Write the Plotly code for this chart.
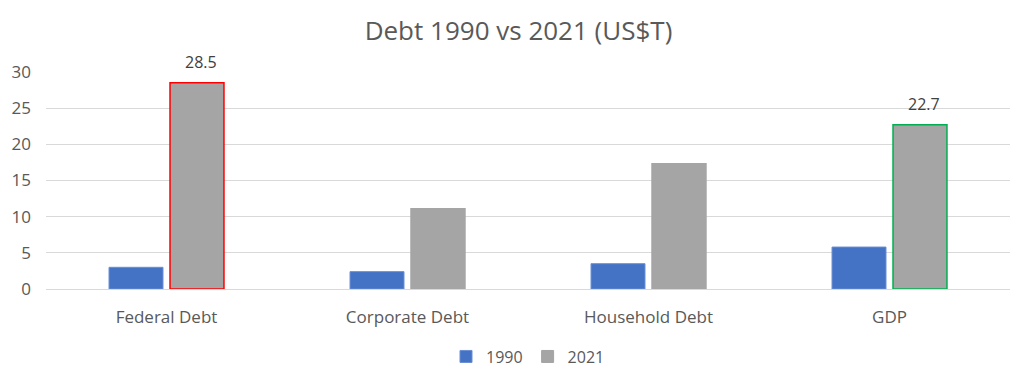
import plotly.graph_objects as go

categories = ["Federal Debt", "Corporate Debt", "Household Debt", "GDP"]
values_1990 = [3.0, 2.4, 3.5, 5.8]
values_2021 = [28.5, 11.1, 17.3, 22.7]
label_2021 = [True, False, False, True]
outline_2021 = ["#ff0000", "#a5a5a5", "#a5a5a5", "#00b050"]
y_ticks = [0, 5, 10, 15, 20, 25, 30]

font_family = "Open Sans, Liberation Sans, sans-serif"

fig = go.Figure()
fig.add_trace(go.Bar(
    x=categories, y=values_1990, name="1990", offsetgroup="a",
    marker=dict(color="#4472c4", line=dict(color="#6a8fd3", width=1)),
))
fig.add_trace(go.Bar(
    x=categories, y=values_2021, name="2021", offsetgroup="b", showlegend=False,
    marker=dict(color="#a5a5a5", line=dict(color=outline_2021, width=1.5)),
))
# legend entry for 2021 (plain grey swatch)
fig.add_trace(go.Bar(
    x=[None], y=[None], name="2021", offsetgroup="b", showlegend=True,
    marker=dict(color="#a5a5a5", line=dict(color="#a5a5a5", width=1)),
))

for cat, v, s in zip(categories, values_2021, label_2021):
    if s:
        fig.add_annotation(x=cat, y=v, text=f"{v}", showarrow=False,
                           xshift=34, yshift=8, yanchor="bottom",
                           font=dict(size=16, color="#404040", family=font_family))

fig.update_layout(
    width=1021, height=375,
    margin=dict(l=38, r=19, t=64, b=94, autoexpand=False),
    paper_bgcolor="white", plot_bgcolor="white",
    font=dict(family=font_family, color="#595959", size=17),
    title=dict(text="Debt 1990 vs 2021 (US$T)", x=0.5, xanchor="center",
               y=0.94, yanchor="middle",
               font=dict(size=26, color="#595959", family=font_family)),
    barmode="group", bargap=0.494, bargroupgap=0.115,
    showlegend=True,
    legend=dict(orientation="h", x=0.5, xanchor="center", y=-0.233, yanchor="top",
                font=dict(size=16, color="#595959"), itemwidth=30,
                traceorder="normal"),
)
fig.update_yaxes(range=[0, 30], tickvals=y_ticks, showgrid=True, automargin=False,
                 gridcolor="#d9d9d9", gridwidth=1, zeroline=True,
                 zerolinecolor="#d9d9d9", zerolinewidth=1, showline=False,
                 ticklabelstandoff=14, tickfont=dict(size=17, color="#595959"))
fig.update_xaxes(showline=False, ticks="", automargin=False,
                 tickfont=dict(size=17, color="#595959"),
                 ticklabelstandoff=16)

fig.write_html("out.html")
